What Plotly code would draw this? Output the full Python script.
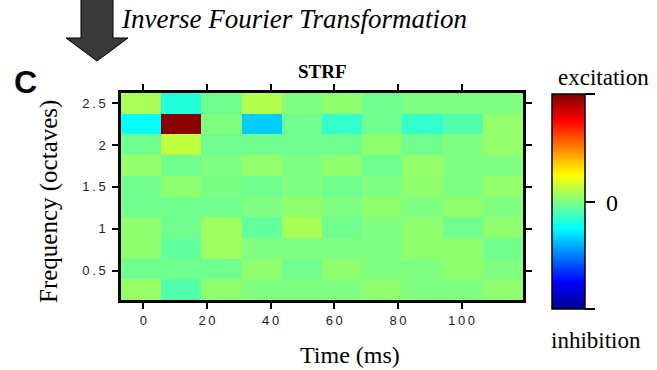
import plotly.graph_objects as go

# ---- data ----
time_ms = [-0.7, 11.9, 24.6, 37.2, 49.8, 62.5, 75.1, 87.7, 100.4, 113.0]
freq_oct = [2.496, 2.249, 2.002, 1.755, 1.508, 1.261, 1.014, 0.767, 0.520, 0.273]  # top -> bottom

row_250 = [0.08, -0.18, -0.03, 0.10, 0.00, 0.03, -0.03, 0.00, 0.00, 0.00]
row_225 = [-0.25, 0.98, 0.00, -0.35, -0.03, -0.15, -0.03, -0.15, -0.085, 0.04]
row_200 = [-0.03, 0.125, -0.03, -0.03, -0.03, -0.03, 0.03, -0.03, 0.00, 0.04]
row_175 = [0.04, -0.03, 0.00, 0.04, 0.00, 0.03, -0.03, 0.04, 0.00, 0.00]
row_150 = [-0.03, 0.03, -0.01, -0.03, 0.00, -0.03, 0.00, 0.03, 0.00, 0.04]
row_125 = [-0.03, -0.03, -0.03, 0.00, 0.03, 0.00, 0.03, 0.00, 0.03, 0.00]
row_100 = [0.03, -0.03, 0.06, -0.06, 0.08, -0.03, 0.00, 0.03, -0.03, 0.03]
row_075 = [0.03, -0.06, 0.06, 0.00, 0.00, 0.00, 0.00, 0.03, 0.03, -0.03]
row_050 = [-0.03, -0.03, -0.03, 0.03, -0.03, 0.03, 0.00, 0.00, 0.03, 0.00]
row_025 = [0.05, -0.09, 0.03, 0.00, 0.00, 0.00, 0.03, 0.00, 0.00, 0.03]
strf = [row_250, row_225, row_200, row_175, row_150, row_125, row_100, row_075, row_050, row_025]

x_tickvals = [0, 20, 40, 60, 80, 100]
x_ticktext = ["0", "2\u20090", "4\u20090", "6\u20090", "8\u20090", "1\u20090\u20090"]
y_tickvals = [0.5, 1, 1.5, 2, 2.5]
y_ticktext = ["0\u2009.\u20095", "1", "1\u2009.\u20095", "2", "2\u2009.\u20095"]
cbar_tickvals = [-1, 0, 1]

# ---- layout geometry (pixels) ----
W, H = 657, 370
L, R, T, B = 121, 523, 93, 300


def px(x):
    return (x - L) / (R - L)


def py(y):
    return (B - y) / (B - T)


jet = [[0.0, "rgb(0,0,143)"], [0.125, "rgb(0,0,255)"], [0.375, "rgb(0,255,255)"],
       [0.625, "rgb(255,255,0)"], [0.875, "rgb(255,0,0)"], [1.0, "rgb(128,0,0)"]]

SERIF = "Liberation Serif, Times New Roman, serif"
SANS = "Liberation Sans, Arial, sans-serif"

fig = go.Figure()
fig.add_trace(go.Heatmap(
    x=time_ms, y=freq_oct, z=strf,
    colorscale=jet, zmin=-1, zmax=1,
    colorbar=dict(
        x=px(552), xanchor="left", xpad=0, ypad=0,
        y=py(201.5), yanchor="middle",
        lenmode="pixels", len=215, thickness=33,
        outlinewidth=1.5, outlinecolor="black",
        ticks="outside", ticklen=10, tickwidth=2, tickcolor="black",
        tickvals=cbar_tickvals, showticklabels=False,
    ),
    hoverinfo="skip",
))

axis_common = dict(
    showline=True, linewidth=2.5, linecolor="black", mirror="ticks",
    ticks="outside", ticklen=6, tickwidth=1.5, tickcolor="black",
    showgrid=False, zeroline=False,
    tickfont=dict(family=SANS, size=13, color="#222"),
)

fig.update_xaxes(range=[-7.0, 119.3], tickvals=x_tickvals, ticktext=x_ticktext,
                 ticklabelstandoff=1, **axis_common)
fig.update_yaxes(range=[0.15, 2.62], tickvals=y_tickvals, ticktext=y_ticktext,
                 ticklabelstandoff=4, **axis_common)

annotations = [
    dict(text="<i>Inverse Fourier Transformation</i>", x=px(119), y=py(19), xanchor="left",
         yanchor="middle", font=dict(family=SERIF, size=27, color="black")),
    dict(text="<b>C</b>", x=px(25), y=py(82), xanchor="center", yanchor="middle",
         font=dict(family=SANS, size=32, color="black")),
    dict(text="<b>STRF</b>", x=px(322), y=py(71), xanchor="center", yanchor="middle",
         font=dict(family=SERIF, size=19, color="black")),
    dict(text="Frequency (octaves)", x=px(49), y=py(202), xanchor="center", yanchor="middle",
         textangle=-90, font=dict(family=SERIF, size=25, color="black")),
    dict(text="Time (ms)", x=px(350), y=py(355), xanchor="center", yanchor="middle",
         font=dict(family=SERIF, size=24, color="black")),
    dict(text="excitation", x=px(603), y=py(77), xanchor="center", yanchor="middle",
         font=dict(family=SERIF, size=23, color="black")),
    dict(text="inhibition", x=px(596), y=py(340), xanchor="center", yanchor="middle",
         font=dict(family=SERIF, size=23, color="black")),
    dict(text="0", x=px(604), y=py(203), xanchor="left", yanchor="middle",
         font=dict(family=SERIF, size=24, color="black")),
]
for a in annotations:
    a.update(xref="paper", yref="paper", showarrow=False)

arrow_pts = [(81, -3), (113, -3), (113, 38), (128, 38), (97, 61), (66, 38), (81, 38)]
path = "M " + " L ".join(f"{px(x):.5f},{py(y):.5f}" for x, y in arrow_pts) + " Z"

fig.update_layout(
    width=W, height=H,
    margin=dict(l=L, r=W - R, t=T, b=H - B, pad=0),
    paper_bgcolor="white", plot_bgcolor="white",
    annotations=annotations,
    shapes=[dict(type="path", path=path, xref="paper", yref="paper",
                 fillcolor="#3a3a3a", line=dict(color="black", width=1))],
    showlegend=False,
)

fig.write_html("out.html")
